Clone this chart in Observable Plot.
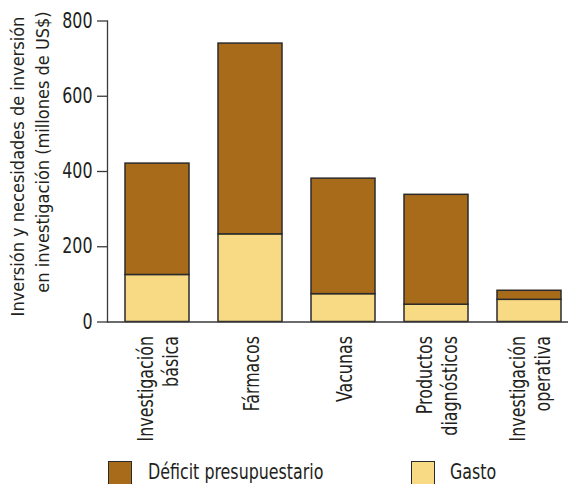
<!DOCTYPE html>
<html><head><meta charset="utf-8">
<script src="https://cdn.jsdelivr.net/npm/d3@7"></script>
<script src="https://cdn.jsdelivr.net/npm/@observablehq/plot@0.6"></script>
<style>
body{margin:0;background:#fff;font-family:'DejaVu Sans Condensed',sans-serif;}
#wrap{position:relative;width:568px;height:484px;overflow:hidden;background:#fff;}
#chart{position:absolute;left:0;top:0;}
.sw{position:absolute;width:24px;height:24px;border:1.5px solid #2b2b2b;box-sizing:border-box;}
.lt{position:absolute;font-size:21px;line-height:21px;color:#231f20;white-space:nowrap;transform-origin:0 0;transform:scaleX(0.84);}
</style></head><body>
<div id="wrap"><div id="chart"></div></div>
<script>
const categories = ["Investigación\nbásica", "Fármacos", "Vacunas", "Productos\ndiagnósticos", "Investigación\noperativa"];
const gasto = [125, 233, 74, 46, 59];
const deficit = [296, 507, 307, 292, 24];
const seriesNames = ["Gasto", "Déficit presupuestario"];
const seriesColors = ["#f8da85", "#a86b19"];
const yTicks = [0, 200, 400, 600, 800];
const yTitle = ["Inversión y necesidades de inversión", "en investigación (millones de US$)"];

const FONT = "'DejaVu Sans Condensed',sans-serif";
const rows = [];
categories.forEach((c, i) => {
  rows.push({cat: c, serie: seriesNames[0], value: gasto[i]});
  rows.push({cat: c, serie: seriesNames[1], value: deficit[i]});
});

const H = 450, Y0 = 321.5;
const chart = Plot.plot({
  width: 568, height: H,
  marginLeft: 107, marginRight: 0, marginTop: 20.5, marginBottom: H - Y0,
  style: {fontFamily: FONT, fontSize: "21px", color: "#231f20", background: "#fff", overflow: "visible"},
  x: {domain: categories, range: [109.7, 576.3], paddingInner: 0.314, paddingOuter: 0.157, axis: null},
  y: {domain: [0, 800], axis: null},
  color: {domain: seriesNames, range: seriesColors},
  marks: [
    Plot.barY(rows, {x: "cat", y: "value", fill: "serie", stroke: "#2b2b2b", strokeWidth: 1.5}),
    Plot.frame({anchor: "left", stroke: "#3a3a3a", strokeWidth: 1.3}),
    Plot.frame({anchor: "bottom", stroke: "#3a3a3a", strokeWidth: 1.3}),
    Plot.axisY(yTicks, {tickSize: 10, tickPadding: 5, fontSize: 21, stroke: "#3a3a3a", strokeWidth: 1.3, label: null}),
    Plot.text(categories, {x: d => d, text: d => d, frameAnchor: "bottom", rotate: -90, textAnchor: "end", lineAnchor: "middle", lineHeight: 1.2, dy: 14, fontSize: 21, fill: "#231f20"}),
    Plot.text([yTitle[0]], {text: d => d, frameAnchor: "left", dx: -89, dy: -5, rotate: -90, textAnchor: "middle", fontSize: 18, fill: "#231f20", className: "ytitle"}),
    Plot.text([yTitle[1]], {text: d => d, frameAnchor: "left", dx: -64, dy: -19.5, rotate: -90, textAnchor: "middle", fontSize: 18, fill: "#231f20", className: "ytitle"})
  ]
});
document.getElementById("chart").appendChild(chart);

// emulate a condensed face: compress glyphs along the text direction (not the axis title)
const K = 0.84;
chart.querySelectorAll("text").forEach(t => {
  if (t.closest(".ytitle")) return;
  const spans = t.querySelectorAll("tspan");
  const els = spans.length ? Array.from(spans) : [t];
  els.forEach(e => {
    const len = e.getComputedTextLength();
    if (len > 0) {
      e.setAttribute("textLength", (len * K).toFixed(1));
      e.setAttribute("lengthAdjust", "spacingAndGlyphs");
    }
  });
});

// legend (HTML, below the SVG)
const wrap = document.getElementById("wrap");
const legendItems = [
  {name: seriesNames[1], color: seriesColors[1], sx: 108, tx: 148},
  {name: seriesNames[0], color: seriesColors[0], sx: 411, tx: 450}
];
legendItems.forEach(it => {
  const s = document.createElement("div");
  s.className = "sw"; s.style.left = it.sx + "px"; s.style.top = "461px"; s.style.background = it.color;
  wrap.appendChild(s);
  const t = document.createElement("div");
  t.className = "lt"; t.style.left = it.tx + "px"; t.style.top = "462px"; t.textContent = it.name;
  wrap.appendChild(t);
});
</script>
</body></html>
